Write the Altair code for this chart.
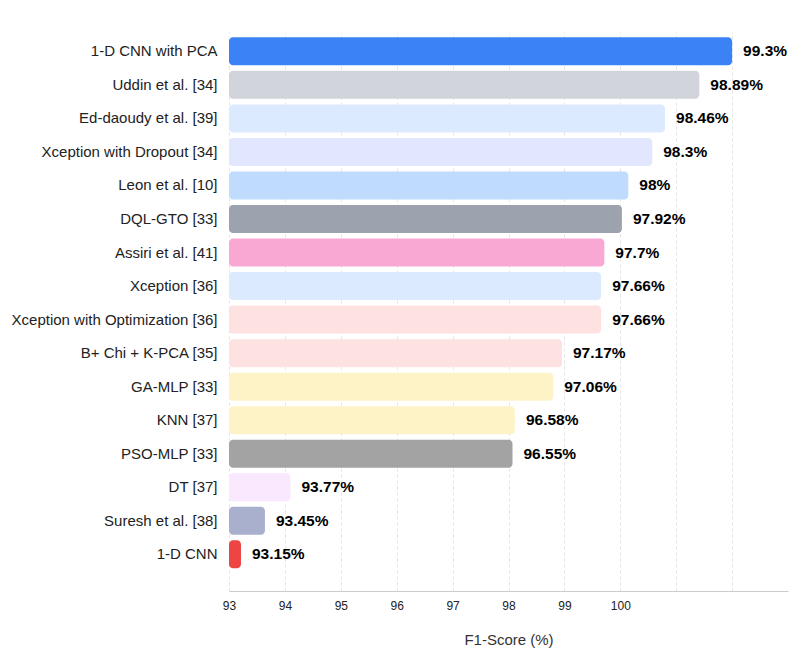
import altair as alt
import pandas as pd

methods = [
    "1-D CNN with PCA", "Uddin et al. [34]", "Ed-daoudy et al. [39]",
    "Xception with Dropout [34]", "Leon et al. [10]", "DQL-GTO [33]",
    "Assiri et al. [41]", "Xception [36]", "Xception with Optimization [36]",
    "B+ Chi + K-PCA [35]", "GA-MLP [33]", "KNN [37]", "PSO-MLP [33]",
    "DT [37]", "Suresh et al. [38]", "1-D CNN",
]
scores = [99.3, 98.89, 98.46, 98.3, 98.0, 97.92, 97.7, 97.66, 97.66,
          97.17, 97.06, 96.58, 96.55, 93.77, 93.45, 93.15]
labels = ["99.3%", "98.89%", "98.46%", "98.3%", "98%", "97.92%", "97.7%",
          "97.66%", "97.66%", "97.17%", "97.06%", "96.58%", "96.55%",
          "93.77%", "93.45%", "93.15%"]
colors = ["#3b82f6", "#d1d5db", "#dbeafe", "#e0e7ff", "#bfdbfe", "#9ca3af",
          "#f9a8d4", "#dbeafe", "#fee2e2", "#fee2e2", "#fef3c7", "#fef3c7",
          "#a3a3a3", "#fae8ff", "#a9b0cd", "#ef4444"]

tick_values = [93, 93.7, 94.4, 95.1, 95.8, 96.5, 97.2, 97.9, 98.6, 99.3]
tick_labels = ["93", "94", "95", "96", "97", "98", "99", "100", "", ""]

df = pd.DataFrame({"method": methods, "score": scores, "label": labels,
                   "color": colors, "base": [93] * len(methods)})

label_expr = " : ".join(
    f"abs(datum.value - {v}) < 0.01 ? '{l}'" for v, l in zip(tick_values, tick_labels)
) + " : ''"

xscale = alt.Scale(domain=[93, 100], nice=False, zero=False)
yenc = alt.Y("method:N", sort=methods,
             scale=alt.Scale(paddingInner=0.165, paddingOuter=0.417, align=0.19),
             axis=alt.Axis(title=None, ticks=False, domain=False, grid=False,
                           labelFontSize=15, labelPadding=12, labelColor="#222",
                           labelLimit=400))

bars = alt.Chart(df).mark_bar(cornerRadius=4).encode(
    x=alt.X("score:Q", scale=xscale,
            axis=alt.Axis(values=tick_values, labelExpr=label_expr,
                          title="F1-Score (%)", titleFontSize=15,
                          titleFontWeight="normal", titleColor="#333",
                          titlePadding=21, labelFontSize=12, labelColor="#222",
                          labelPadding=9, ticks=False, domainColor="#cccccc",
                          grid=True, gridDash=[3, 3], gridColor="#e3e3e3",
                          labelFlush=False)),
    x2="base:Q",
    y=yenc,
    color=alt.Color("color:N", scale=None),
)

text = alt.Chart(df).mark_text(align="left", baseline="middle", dx=11,
                               fontSize=15.5, fontWeight="bold", color="#000").encode(
    x=alt.X("score:Q", scale=xscale),
    y=alt.Y("method:N", sort=methods),
    text="label:N",
)

chart = (bars + text).properties(
    width=559, height=559,
    autosize=alt.AutoSizeParams(type="none"),
    padding={"left": 221, "top": 24, "right": 13, "bottom": 58},
).configure(font="Liberation Sans").configure_view(stroke=None)

chart.save("out.html", embed_options={"renderer": "svg", "actions": False})
